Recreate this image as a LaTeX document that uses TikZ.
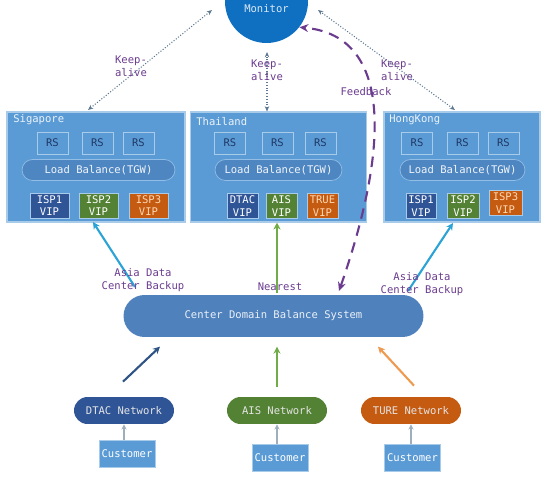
\documentclass[tikz,border=0pt]{standalone}
\usepackage{fontspec}
\setmainfont{DejaVu Sans Mono}
\usetikzlibrary{arrows.meta,positioning}
\definecolor{regblue}{HTML}{5B9BD5}
\definecolor{regline}{HTML}{A9CBEA}
\definecolor{lbblue}{HTML}{4E86C2}
\definecolor{navy}{HTML}{1F3864}
\definecolor{ispone}{HTML}{2F5597}
\definecolor{isptwo}{HTML}{548235}
\definecolor{ispthree}{HTML}{C55A11}
\definecolor{cdbblue}{HTML}{4F81BD}
\definecolor{monblue}{HTML}{0F6FC0}
\definecolor{lblpurple}{HTML}{6A3B8E}
\definecolor{kagray}{HTML}{5D7890}
\definecolor{bkcyan}{HTML}{2BA3D6}
\definecolor{nrgreen}{HTML}{70AD47}
\definecolor{uporange}{HTML}{EE9A50}
\definecolor{upnavy}{HTML}{2E5486}
\tikzset{
  >=Stealth,
}

\begin{document}
\begin{tikzpicture}[
  x=0.02cm,y=-0.02cm,
  every node/.style={font=\fontsize{6}{7.1}\selectfont},
  region/.style={draw=regline,fill=regblue,minimum height=2.2cm,line width=0.6pt,inner sep=0pt},
  ttl/.style={text=white!88!regblue,anchor=west,inner sep=0pt},
  rs/.style={draw=regline,fill=regblue,text=navy,minimum width=0.62cm,minimum height=0.44cm,inner sep=0pt},
  lb/.style={draw=regline!70!regblue,fill=lbblue,text=white!92!lbblue,rounded corners=0.21cm,
             minimum height=0.42cm,inner sep=0pt},
  vip/.style={draw=regline,text=white,align=center,minimum height=0.5cm,inner sep=0pt},
  net/.style={text=white!90!black,rounded corners=0.27cm,minimum width=2cm,minimum height=0.54cm},
  cust/.style={draw=regline,fill=regblue,text=white,minimum width=1.12cm,minimum height=0.54cm,inner sep=0pt},
  lab/.style={text=lblpurple,align=center,inner sep=0pt},
  ka/.style={<->,>={Stealth[length=3pt,width=2.5pt]},kagray,densely dotted,line width=0.6pt},
  bk/.style={->,>={Stealth[length=4pt,width=4pt]},line width=1.2pt},
  cu/.style={->,>={Stealth[length=3pt,width=3pt]},kagray!60,line width=0.7pt}
]
\useasboundingbox (0,0) rectangle (549,500);

% monitor
\node[circle,fill=monblue,minimum size=1.66cm] (mon) at (266.5,1.5) {};
\node[text=white!85!monblue] (monT) at (266.5,9) {Monitor};

% regions
\node[region,minimum width=3.56cm] (sg) at (96,167) {};
\node[region,minimum width=3.52cm] (th) at (278.5,167) {};
\node[region,minimum width=3.12cm] (hk) at (462,167) {};
\node[ttl] (sgT) at (13,120) {Sigapore};
\node[ttl] (thT) at (196,122) {Thailand};
\node[ttl] (hkT) at (389,120) {HongKong};

\node[rs] (sgR1) at (52.5,143) {RS};
\node[rs] (sgR2) at (97.5,143) {RS};
\node[rs] (sgR3) at (138.5,143) {RS};
\node[rs] (thR1) at (230,143) {RS};
\node[rs] (thR2) at (277.5,143) {RS};
\node[rs] (thR3) at (320.5,143) {RS};
\node[rs] (hkR1) at (417,143) {RS};
\node[rs] (hkR2) at (462.5,143) {RS};
\node[rs] (hkR3) at (503.5,143) {RS};

\node[lb,minimum width=3.06cm] (sgLB) at (98.5,170) {Load Balance(TGW)};
\node[lb,minimum width=2.54cm] (thLB) at (278.5,170) {Load Balance(TGW)};
\node[lb,minimum width=2.5cm] (hkLB) at (462.5,170) {Load Balance(TGW)};

\node[vip,fill=ispone,minimum width=0.78cm] (sgV1) at (49.5,205.5) {ISP1\\VIP};
\node[vip,fill=isptwo,minimum width=0.78cm] (sgV2) at (98.5,205.5) {ISP2\\VIP};
\node[vip,fill=ispthree,text=orange!30!white,minimum width=0.78cm] (sgV3) at (148.5,205.5) {ISP3\\VIP};
\node[vip,fill=ispone,minimum width=0.62cm] (thV1) at (242.5,206) {DTAC\\VIP};
\node[vip,fill=isptwo,minimum width=0.62cm] (thV2) at (281.5,206) {AIS\\VIP};
\node[vip,fill=ispthree,text=orange!30!white,minimum width=0.62cm] (thV3) at (322.5,206) {TRUE\\VIP};
\node[vip,fill=ispone,minimum width=0.6cm] (hkV1) at (421,206) {ISP1\\VIP};
\node[vip,fill=isptwo,minimum width=0.64cm] (hkV2) at (463,206) {ISP2\\VIP};
\node[vip,fill=ispthree,text=orange!30!white,minimum width=0.66cm] (hkV3) at (505.5,203) {ISP3\\VIP};

% keep-alive
\coordinate (sgK) at (88,110);
\coordinate (hkK) at (455,110);
\coordinate (kaL) at (212,10);
\coordinate (kaM) at (267,52);
\coordinate (kaR) at (318,10);
\draw[ka] (sgK) -- (kaL);
\draw[ka] (th.north -| kaM) -- (kaM);
\draw[ka] (hkK) -- (kaR);
\node[lab,align=left] (kaLT) at (131,66) {Keep-\\alive};
\node[lab,align=left] (kaMT) at (267,70) {Keep-\\alive};
\node[lab,align=left] (kaRT) at (397,70) {Keep-\\alive};

% center domain balance
\node[fill=cdbblue,text=white!88!cdbblue,rounded corners=0.42cm,minimum width=6cm,minimum height=0.84cm]
  (cdb) at (273.5,316) {Center Domain Balance System};

\coordinate (bkL) at (135,287);
\coordinate (bkR) at (408,291);
\coordinate (nr) at (277,293);
\coordinate (sgB) at (93,222);
\coordinate (hkB) at (453,223);
\draw[bk,bkcyan] (bkL) -- (sgB);
\draw[bk,bkcyan] (bkR) -- (hkB);
\draw[bk,nrgreen] (nr) -- (th.south -| nr);
\node[lab] (bkLT) at (143,280) {Asia Data\\Center Backup};
\node[lab] (bkRT) at (422,284) {Asia Data\\Center Backup};
\node[lab] (nrT) at (280,287) {Nearest};

% feedback
\coordinate (fbS) at (339,291);
\draw[<->,>={Stealth[length=5pt,width=4.5pt]},lblpurple,line width=1.2pt,dash pattern=on 6pt off 4pt]
  (fbS) .. controls (395,130) and (385,35) .. (mon.-38);
\node[lab] (fbT) at (366,92) {Feedback};

% networks
\node[net,fill=ispone] (dtacN) at (124,410.5) {DTAC Network};
\node[net,fill=isptwo] (aisN) at (277,410.5) {AIS Network};
\node[net,fill=ispthree] (tureN) at (411,410.5) {TURE Network};

\draw[bk,upnavy] (dtacN.north) ++(-1,-15) -- ++(37,-35);
\draw[bk,nrgreen] (aisN.north) ++(0,-10) -- ++(0,-40);
\draw[bk,uporange] (tureN.north) ++(3,-11) -- ++(-36,-39);

% customers
\node[cust] (dtacC) at (127,453.5) {Customer};
\node[cust] (aisC) at (280,458) {Customer};
\node[cust] (tureC) at (412.5,458) {Customer};
\draw[cu] (dtacC.north -| dtacN) -- (dtacN.south);
\draw[cu] (aisC.north -| aisN) -- (aisN.south);
\draw[cu] (tureC.north -| tureN) -- (tureN.south);

\end{tikzpicture}
\end{document}
